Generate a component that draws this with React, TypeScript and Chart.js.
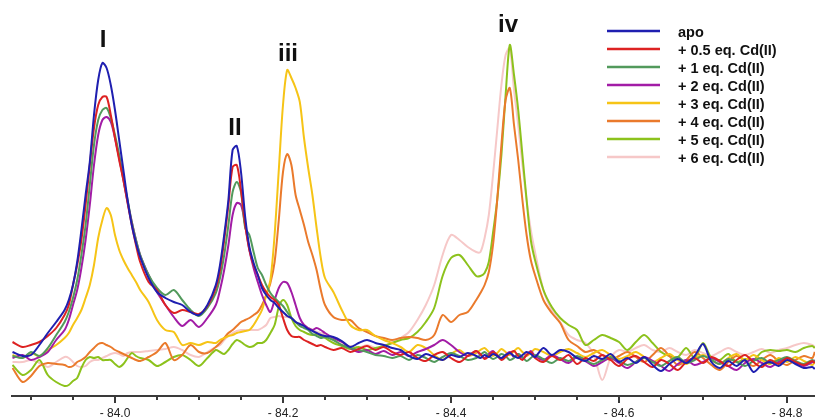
import React, { useEffect, useRef } from "react";
import { Chart, registerables } from "chart.js";

Chart.register(...registerables);

// 19F chemical shift (ppm)
const chemicalShifts = [
  -83.878, -83.89, -83.9, -83.91, -83.92, -83.93, -83.94,
  -83.945, -83.95, -83.955, -83.96, -83.965, -83.97, -83.975, -83.98, -83.985, -83.99, -83.995,
  -84.0, -84.005, -84.01, -84.015, -84.02, -84.025, -84.03,
  -84.04, -84.05, -84.06, -84.07, -84.08, -84.09, -84.1, -84.11, -84.12,
  -84.125, -84.13, -84.135, -84.14, -84.145, -84.15, -84.155, -84.16, -84.165, -84.17,
  -84.175, -84.18, -84.185, -84.19, -84.195, -84.2, -84.205, -84.21, -84.215, -84.22,
  -84.225, -84.23, -84.235, -84.24, -84.245, -84.25,
  -84.26, -84.27, -84.28, -84.29, -84.3, -84.31, -84.32, -84.33, -84.34, -84.35,
  -84.36, -84.37, -84.38, -84.39, -84.4, -84.41, -84.42, -84.43,
  -84.435, -84.44, -84.445, -84.45, -84.455, -84.46, -84.465, -84.47, -84.475, -84.48,
  -84.485, -84.49, -84.495, -84.5,
  -84.51, -84.52, -84.53, -84.54, -84.55, -84.56, -84.57, -84.58, -84.59, -84.6,
  -84.61, -84.62, -84.63, -84.64, -84.65, -84.66, -84.67, -84.68, -84.69, -84.7,
  -84.71, -84.72, -84.73, -84.74, -84.75, -84.76, -84.77, -84.78, -84.79, -84.8,
  -84.81, -84.82, -84.83, -84.833,
];

const seriesLabels = [
  "apo",
  "+ 0.5 eq. Cd(II)",
  "+ 1 eq. Cd(II)",
  "+ 2 eq. Cd(II)",
  "+ 3 eq. Cd(II)",
  "+ 4 eq. Cd(II)",
  "+ 5 eq. Cd(II)",
  "+ 6 eq. Cd(II)",
];

const seriesColors = [
  "#1f1fb0",
  "#dd2222",
  "#529a5c",
  "#a21ca6",
  "#f6c416",
  "#ea7a2c",
  "#8cc21c",
  "#f6c8c8",
];

const apo = [
  8, 4, 5, 15, 27, 38, 50, 60, 75, 98,
  130, 165, 198, 245, 280, 297, 292, 275, 250, 220,
  190, 160, 135, 117, 103, 82, 68, 62, 58, 55,
  48, 45, 55, 75, 95, 125, 160, 210, 214, 188,
  143, 113, 97, 85, 72, 65, 60, 57, 52, 48,
  44, 42, 38, 36, 34, 31, 29, 27, 25, 24,
  23, 19, 13, 17, 20, 17, 15, 12, 10, 4,
  1, 6, 3, 0, 5, 3, 7, 4, 2, 5,
  3, 6, 4, 2, 5, 7, 4, 2, 5, 8,
  6, 3, 12, 5, 10, 8, 2, -1, 4, 1,
  6, -2, 2, -3, 3, -5, -11, -4, 1, -3,
  4, 16, -2, -8, -1, -6, 0, -12, -5, -2,
  -6, 0, -4, -8, -7, -9,
];

const cd05 = [
  18, 13, 15, 18, 24, 32, 45, 55, 75, 95,
  120, 155, 195, 232, 255, 263, 263, 245, 222, 200,
  180, 157, 135, 115, 98, 78, 70, 55, 47, 50,
  48, 46, 54, 72, 90, 120, 155, 193, 195, 170,
  135, 110, 95, 85, 75, 68, 63, 60, 55, 42,
  30, 24, 23, 23, 20, 18, 16, 14, 15, 13,
  10, 12, 8, 11, 14, 10, 13, 8, 5, 8,
  2, -1, 5, 8, 2, -2, 4, 9, 6, 1,
  4, 8, 5, 0, 3, 7, 9, 4, 0, 5,
  8, 2, -2, 4, 0, 5, -4, 2, -1, 5,
  0, -6, 1, 4, -2, -7, 0, -4, -10, -2,
  2, -3, 3, -1, -6, 0, 5, -2, -7, 0,
  -4, 2, -2, -5, -1, -3,
];

const cd1 = [
  4, 2, 8, 4, 12, 25, 38, 48, 62, 80,
  105, 135, 175, 215, 240, 250, 252, 242, 225, 205,
  182, 160, 138, 120, 105, 85, 72, 65, 70, 60,
  50, 44, 52, 67, 82, 105, 135, 168, 178, 168,
  132, 125, 108, 92, 85, 75, 67, 62, 58, 54,
  48, 42, 38, 34, 32, 30, 26, 24, 22, 23,
  20, 15, 12, 10, 8, 5, 4, 2, 4, 0,
  5, 2, -2, 3, 7, 4, 0, 2, 5, 8,
  4, 1, 3, 6, 4, 0, 2, 6, 3, -1,
  2, 5, 1, -3, 2, -1, 4, 0, -4, 0,
  3, -1, -5, -2, 2, -2, -6, -1, 3, -3,
  0, 4, 0, -4, 1, -2, -6, -1, 2, -3,
  0, 3, -1, -4, 0, -2,
];

const cd2 = [
  2, 5, 0, 3, 8, 20, 30, 40, 55, 70,
  92, 120, 155, 195, 225, 240, 243, 238, 222, 202,
  180, 158, 138, 120, 105, 85, 68, 55, 43, 34,
  40, 33, 42, 55, 70, 90, 115, 145, 157, 155,
  135, 110, 92, 78, 65, 55, 48, 60, 72, 78,
  77, 68, 55, 42, 35, 32, 30, 32, 30, 27,
  22, 18, 12, 8, 10, 6, 9, 5, 8, 4,
  8, 11, 15, 20, 15, 8, 4, 9, 5, 2,
  6, 9, 4, 1, 5, 8, 3, 6, 2, 5,
  9, 4, 0, 5, 1, -3, 3, -1, -6, -2,
  2, -3, -8, -2, 3, -1, -6, -11, -4, 0,
  -5, -2, 2, -2, -6, -10, -3, 1, -3, -7,
  -2, 2, -3, -6, -2, 0,
];

const cd3 = [
  5, 2, 7, 4, 10, 15, 22, 27, 35, 42,
  50, 62, 75, 95, 122, 140, 152, 145, 125, 110,
  100, 92, 85, 78, 70, 58, 40, 30, 28, 15,
  17, 15, 18, 17, 20, 22, 24, 25, 27, 28,
  29, 30, 35, 42, 50, 65, 80, 125, 190, 255,
  290, 282, 272, 258, 222, 192, 165, 132, 102, 82,
  68, 50, 35, 30, 30, 24, 20, 17, 13, 8,
  15, 12, 5, 0, 6, 10, 4, 7, 10, 12,
  8, 4, 7, 11, 8, 5, 9, 12, 8, 4,
  7, 11, 8, 4, 8, 11, 7, 3, 7, 10,
  5, 1, 4, 8, 3, -2, 2, 6, 0, -4,
  1, 5, 0, -4, 2, 6, 0, 5, 0, -4,
  2, -2, 3, -1, -5, -2,
];

const cd4 = [
  -8, -22, -16, -6, -3, -4, -5, -7, -6, -2,
  0, 3, 8, 12, 16, 17, 15, 13, 10, 8,
  6, 4, 2, 0, -1, 3, 8, 17, 0, 5,
  15, 8, 7, 13, 17, 22, 27, 30, 34, 38,
  40, 42, 45, 48, 55, 65, 77, 98, 140, 188,
  206, 195, 165, 150, 135, 118, 105, 90, 70, 55,
  43, 40, 40, 32, 28, 24, 22, 20, 22, 23,
  22, 20, 25, 45, 38, 45, 48, 60, 67, 75,
  88, 115, 160, 215, 260, 272, 235, 200, 160, 125,
  100, 85, 60, 47, 37, 20, 14, 8, 10, 5,
  0, 4, 8, 3, -2, 5, 12, 4, -5, 0,
  8, 2, -5, -10, -2, 4, -1, -6, 0, 5,
  -1, -5, 0, 4, 2, 8,
];

const cd5 = [
  -5, -15, -10, 0, -15, -22, -26, -25, -21, -18,
  -8, 0, 3, 2, 3, 0, 0, 0, -4, -7,
  -4, 2, 7, 4, 2, 0, -6, -2, 3, 5,
  0, -6, 2, 10, 8, 6, 10, 16, 20, 18,
  15, 13, 14, 17, 17, 20, 27, 35, 53, 60,
  55, 42, 34, 30, 28, 26, 25, 26, 24, 22,
  17, 14, 11, 13, 10, 12, 14, 17, 20, 22,
  28, 38, 52, 84, 102, 105, 95, 84, 84, 87,
  98, 127, 160, 205, 265, 315, 285, 250, 205, 160,
  120, 100, 70, 53, 42, 35, 30, 15, 20, 25,
  22, 18, 10, 18, 25, 17, 8, 4, 3, 12,
  2, 17, 2, 0, 6, -2, 1, 0, 8, 10,
  9, 10, 8, 12, 14, 12,
];

const cd6 = [
  -2, -2, 0, -3, -7, -2, 3, 2, -2, -6,
  -7, -6, -2, 0, 0, 2, 4, 6, 7, 6,
  4, 7, 8, 8, 8, 9, 10, 11, 13, 10,
  5, 3, 8, 13, 15, 20, 24, 27, 29, 30,
  30, 30, 30, 30, 32, 35, 42, 43, 44, 43,
  43, 42, 38, 36, 35, 32, 30, 28, 27, 25,
  20, 15, 14, 12, 15, 12, 14, 18, 22, 28,
  40, 55, 75, 105, 125, 120, 113, 108, 108, 122,
  145, 185, 230, 275, 305, 312, 270, 235, 195, 160,
  130, 108, 70, 50, 38, 25, 20, 17, 5, -20,
  2, 10, 8, 12, 15, 10, 8, 12, 8, 5,
  10, 7, 4, 8, 12, 8, 5, 8, 11, 7,
  10, 12, 15, 17, 15, 13,
];

// Peak annotations (label, shift in ppm, intensity of text baseline)
const peakLabels = ["I", "II", "iii", "iv"];
const peakShifts = [-83.9857, -84.1429, -84.206, -84.4679];
const peakLabelLevels = [313, 225, 299, 328];

const FONT = '"Liberation Sans", Arial, Helvetica, sans-serif';

export default function App() {
  const canvasRef = useRef<HTMLCanvasElement | null>(null);

  useEffect(() => {
    const canvas = canvasRef.current;
    if (!canvas) return;
    const series = [apo, cd05, cd1, cd2, cd3, cd4, cd5, cd6];

    const decor = {
      id: "decor",
      afterDraw(chart: any) {
        const ctx = chart.ctx as CanvasRenderingContext2D;
        const xs = chart.scales.x;
        const ys = chart.scales.y;
        ctx.save();
        // axis tick marks
        ctx.strokeStyle = "#3a3a3a";
        ctx.lineWidth = 2;
        xs.ticks.forEach((t: any) => {
          const px = Math.round(xs.getPixelForValue(t.value));
          const major = Math.round(t.value * 20) % 4 === 0;
          ctx.beginPath();
          ctx.moveTo(px, xs.top);
          ctx.lineTo(px, xs.top + (major ? 7 : 4));
          ctx.stroke();
        });
        // peak labels
        ctx.fillStyle = "#111";
        ctx.font = `bold 24px ${FONT}`;
        ctx.textAlign = "center";
        ctx.textBaseline = "alphabetic";
        peakLabels.forEach((lab, i) => {
          ctx.fillText(lab, xs.getPixelForValue(peakShifts[i]), ys.getPixelForValue(peakLabelLevels[i]));
        });
        // legend
        const lx0 = 607, lx1 = 660, tx = 678, ly0 = 31, step = 18;
        ctx.font = `bold 14.5px ${FONT}`;
        ctx.textAlign = "left";
        seriesLabels.forEach((lab, i) => {
          const y = ly0 + i * step;
          ctx.strokeStyle = seriesColors[i];
          ctx.lineWidth = 2.5;
          ctx.beginPath();
          ctx.moveTo(lx0, y);
          ctx.lineTo(lx1, y);
          ctx.stroke();
          ctx.fillStyle = "#111";
          ctx.fillText(lab, tx, y + 5.5);
        });
        ctx.restore();
      },
    };

    const chart = new Chart(canvas, {
      type: "line",
      data: {
        datasets: series.map((vals, i) => ({
          label: seriesLabels[i],
          data: chemicalShifts.map((x, j) => ({ x, y: vals[j] })),
          borderColor: seriesColors[i],
          backgroundColor: seriesColors[i],
          borderWidth: 2,
          pointRadius: 0,
          tension: 0.3,
          fill: false,
        })),
      },
      options: {
        animation: false,
        responsive: false,
        devicePixelRatio: 1,
        layout: { padding: { left: 12, right: 0, top: 0, bottom: 0 } },
        plugins: {
          legend: { display: false },
          tooltip: { enabled: false },
        },
        scales: {
          x: {
            type: "linear",
            min: -84.8333,
            max: -83.8774,
            reverse: true,
            grid: { display: false, tickLength: 7 },
            border: { display: true, color: "#3a3a3a", width: 2 },
            ticks: {
              stepSize: 0.05,
              includeBounds: false,
              autoSkip: false,
              maxRotation: 0,
              padding: 3,
              color: "#222",
              font: { family: FONT, size: 12 },
              callback: (v: any) => {
                const k = Math.round(Number(v) * 20);
                return k % 4 === 0 ? "- " + Math.abs(Number(v)).toFixed(1) : "";
              },
            },
            afterFit: (scale: any) => {
              scale.height = 23;
            },
          },
          y: {
            display: false,
            min: -36,
            max: 360,
          },
        },
      },
      plugins: [decor],
    } as any);

    return () => chart.destroy();
  }, []);

  return (
    <div style={{ position: "absolute", left: 0, top: 0, width: 815, height: 419, background: "#fff" }}>
      <canvas ref={canvasRef} width={815} height={419} style={{ display: "block" }} />
    </div>
  );
}
